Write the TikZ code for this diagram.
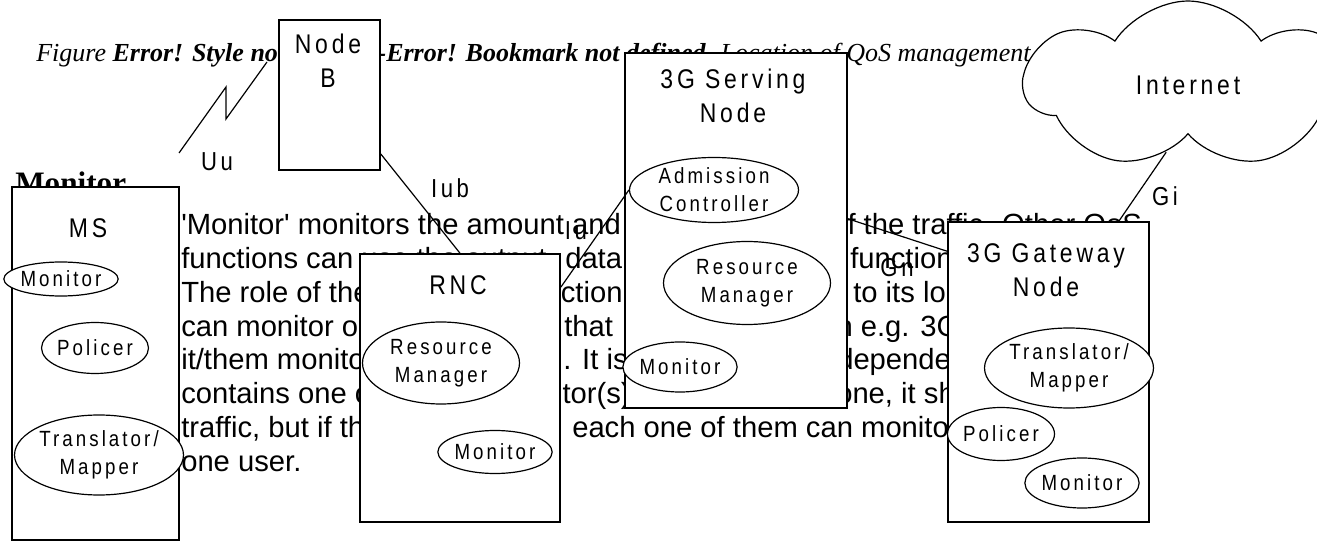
\documentclass[tikz,border=0pt]{standalone}
\usepackage{fontspec}
\setmainfont{Liberation Serif}
\newfontfamily\arialfont{Liberation Sans}
\newfontfamily\narrowfont[FakeStretch=0.85,LetterSpace=14]{Liberation Sans}
\usetikzlibrary{shapes.geometric}
\usetikzlibrary{shapes.symbols}
\tikzset{
box/.style=
    { % network elements
        draw,
        fill=white,
        line width=1.2pt,
        inner sep=0pt
    },
func/.style=
    { % QoS functions inside the elements
        draw,
        ellipse,
        fill=white,
        line width=0.9pt,
        inner sep=0pt,
        align=center,
        font=\narrowfont\fontsize{16.5}{21}\selectfont
    },
title/.style={align=center, inner sep=0pt, font=\narrowfont\fontsize{20.25}{25.5}\selectfont},
iface/.style={inner sep=0pt, font=\narrowfont\fontsize{19.5}{22}\selectfont},
para/.style={anchor=base west, inner sep=0pt, font=\arialfont\fontsize{21.9}{25}\selectfont},
link/.style={draw, line width=0.9pt}
}

\begin{document}
\begin{tikzpicture}[x=0.75pt,y=-0.75pt] % one unit = one pixel, y going down
\path[fill=white] (0,0) rectangle (1317,541);
\useasboundingbox (0,0) rectangle (1317,541);
\clip (0,0) rectangle (1317,541);
%%%%%%%%%%%%%%%%%%%%%%%%%%%%%%%%%% text under the drawing
\node [para, font=\rmfamily\fontsize{19.5}{22}\selectfont] (caption) at (36,62) {\textit{Figure} \textbf{\textit{Error! Style not defined.}}\textbf{\textit{-Error! Bookmark not defined.}} \textit{Location of QoS management functions}};
\node [para, font=\rmfamily\bfseries\fontsize{23.4}{26}\selectfont] (head) at (15,194) {Monitor};
\node [para] (l1a) at (181,235) {\textquotesingle Monitor\textquotesingle{} monitors the amount and};
\node [para] (l1c) at (831,235) {of the traffic. Other QoS};
\node [para] (l2a) at (181,269) {functions can use the output};
\node [para] (l2b) at (565,269) {data of};
\node [para] (l2c) at (850,269) {function};
\node [para] (l3a) at (181,303) {The role of the};
\node [para] (l3b) at (520,303) {function};
\node [para] (l3c) at (853,303) {to its location};
\node [para] (l4a) at (181,337) {can monitor one};
\node [para] (l4b) at (564,337) {that};
\node [para] (l4c) at (820,337) {on e.g. 3G};
\node [para] (l5a) at (181,370) {it/them monitor};
\node [para] (l5b) at (563,370) {. It is};
\node [para] (l5c) at (837,370) {dependent};
\node [para] (l6a) at (181,404) {contains one or};
\node [para] (l6b) at (499,404) {Monitor(s)};
\node [para] (l6d) at (748,404) {only};
\node [para] (l6c) at (836,404) {one, it should};
\node [para] (l7a) at (181,437) {traffic, but if there};
\node [para] (l7b) at (572,437) {each one of them can monitor};
\node [para] (l8a) at (181,471) {one user.};
%%%%%%%%%%%%%%%%%%%%%%%%%%%%%%%%%% network elements
\node [box,minimum width=125.25pt,minimum height=264.75pt] (ms)    at (95.5,363.5) {};
\node [box,minimum width=75.75pt,minimum height=112.5pt]   (nodeb) at (329.5,95) {};
\node [box,minimum width=150pt,minimum height=201pt]       (rnc)   at (460,388) {};
\node [box,minimum width=166.5pt,minimum height=266.25pt]  (sgsn)  at (736,230.5) {};
\node [box,minimum width=150.75pt,minimum height=225pt]    (ggsn)  at (1048.5,372) {};
\node [draw,cloud,cloud puffs=7,cloud puff arc=115,fill=white,line width=0.9pt,
       minimum width=245pt,minimum height=120pt,title] (internet) at (1188,85) {Internet};

\node [title] (msname)    at (88,228)  {MS};
\node [title] (nodebname) at (328,61)  {Node\\B};
\node [title] (rncname)   at (458,285) {RNC};
\node [title] (sgsnname)  at (733,96)  {3G Serving\\Node};
\node [title] (ggsnname)  at (1046,270) {3G Gateway\\Node};
%%%%%%%%%%%%%%%%%%%%%%%%%%%%%%%%%% QoS functions
\node [func,minimum width=75pt,minimum height=25.5pt]     (msmon)   at (61,279)  {Monitor};
\node [func,minimum width=75pt,minimum height=38.25pt]    (mspol)   at (95,348)  {Policer};
\node [func,minimum width=120pt,minimum height=60pt]      (mstrans) at (99,455)  {Translator/\\Mapper};
\node [func,minimum width=117.75pt,minimum height=61.5pt] (rncres)  at (441,363) {Resource\\Manager};
\node [func,minimum width=75pt,minimum height=32.25pt]    (rncmon)  at (495,452) {Monitor};
\node [func,minimum width=126.75pt,minimum height=48.75pt] (sgsnadm) at (714,190) {Admission\\Controller};
\node [func,minimum width=125.25pt,minimum height=62.25pt] (sgsnres) at (747,283) {Resource\\Manager};
\node [func,minimum width=75pt,minimum height=37.5pt]     (sgsnmon) at (680,367) {Monitor};
\node [func,minimum width=120pt,minimum height=60pt]      (ggsntrans) at (1069,368) {Translator/\\Mapper};
\node [func,minimum width=80.25pt,minimum height=39.75pt] (ggsnpol) at (1001,434) {Policer};
\node [func,minimum width=75.75pt,minimum height=37.5pt]  (ggsnmon) at (1082,483) {Monitor};
%%%%%%%%%%%%%%%%%%%%%%%%%%%%%%%%%% interfaces
\coordinate (uua) at (179,153);
\coordinate (uub) at (267,62);
\draw [link] (uua) -- ++(47,-66) -- ++(0,32) -- (uub);
\draw [link] (nodeb.-49) -- (rnc.north);
\draw [link] (rnc.45.4) -- (sgsnadm.west);
\draw [link] (sgsn.6.4) -- (ggsn.130.3);
\draw [link] (internet.-108) -- (ggsn.65.5);

\node [iface] (uu)  at (217,162) {Uu};
\node [iface] (iub) at (450,188) {Iub};
\node [iface] (iu)  at (576,231) {Iu};
\node [iface] (gn)  at (897,268) {Gn};
\node [iface] (gi)  at (1165,196) {Gi};
\end{tikzpicture}
\end{document}
